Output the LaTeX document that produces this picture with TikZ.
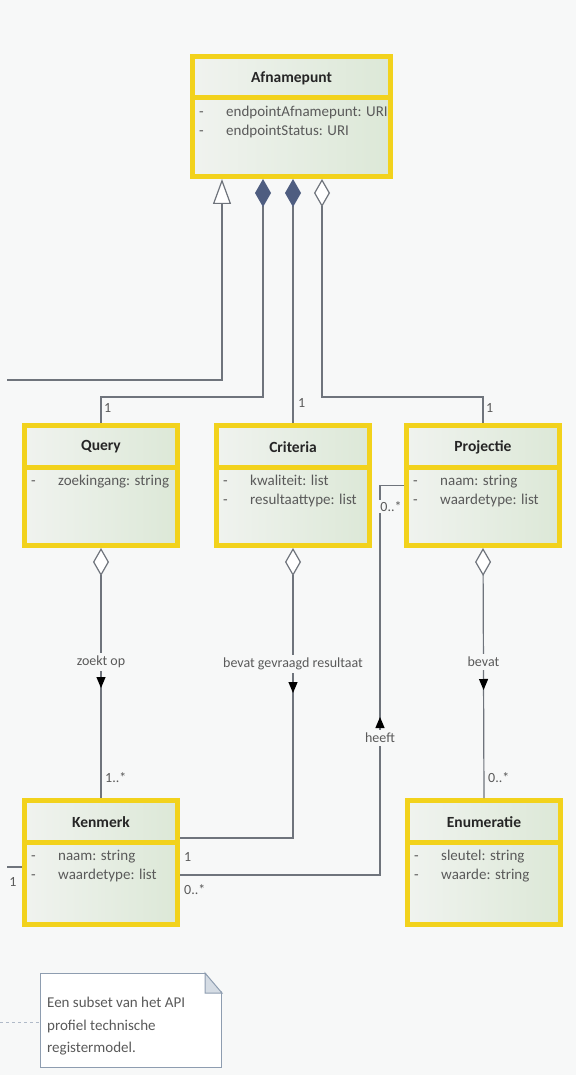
\documentclass[tikz,border=0pt]{standalone}
\usepackage{fontspec}
\setmainfont{Carlito}
\usepackage{xcolor}
\definecolor{geel}{HTML}{F2D21C}
\definecolor{vakl}{HTML}{F0F3EF}
\definecolor{vakr}{HTML}{DCE8D7}
\definecolor{ruit}{HTML}{4E5D80}
\definecolor{lijn}{HTML}{6F747C}
\definecolor{achtergrond}{HTML}{F7F8F8}
\definecolor{attrtekst}{HTML}{5A5A5A}
\definecolor{notitierand}{HTML}{8E9DB0}
\definecolor{vouw}{HTML}{D5DCE4}
\newcommand{\klasse}[7]{
\node[klasse, minimum width=#4, minimum height=#5, anchor=north west] (#1) at (#2,#3) {};
\draw[scheiding] ([yshift=-44pt]#1.north west)--([yshift=-44pt]#1.north east);
\node[titel] at ([yshift=-24pt]#1.north) {#6};
\node[attribuut] at ([xshift=9pt,yshift=-52pt]#1.north west) {#7};
}
\newcommand{\attr}[1]{\makebox[27pt][l]{-}#1}
\usepackage{tikz}
\usetikzlibrary{arrows.meta,decorations.markings}

\begin{document}
\begin{tikzpicture}[x=1pt,y=-1pt,
klasse/.style={draw=geel, line width=5pt, left color=vakl, right color=vakr},
scheiding/.style={draw=geel, line width=5pt},
titel/.style={font=\fontsize{15.5}{18}\selectfont\bfseries, text=black!85},
attribuut/.style={anchor=north west, inner sep=0pt, align=left, font=\fontsize{15}{18.5}\selectfont, text=attrtekst},
verbinding/.style={draw=lijn, line width=1.2pt},
samenstelling/.style={verbinding, {Diamond[length=28pt,width=16pt,fill=ruit,color=ruit]}-},
aggregatie/.style={verbinding, {Diamond[length=28pt,width=16pt,fill=white]}-},
overerving/.style={verbinding, -{Triangle[length=25pt,width=18pt,fill=white]}},
richting/.style={postaction=decorate, decoration={markings, mark=at position #1 with {\arrow{Triangle[length=11pt,width=9pt,fill=black,color=black]}}}},
rol/.style={font=\fontsize{14}{16}\selectfont, text=attrtekst, inner sep=1pt},
relnaam/.style={rol, fill=achtergrond, inner sep=3pt},
notitie/.style={draw=notitierand, line width=1pt, fill=white, anchor=north west, minimum width=181pt, minimum height=94pt},
notitietekst/.style={anchor=north west, inner sep=0pt, align=left, font=\fontsize{15}{22.5}\selectfont, text=attrtekst},
notitiestreep/.style={draw=notitierand!70, line width=1pt, dash pattern=on 3pt off 3pt}
]
\fill[achtergrond] (0,0) rectangle (576,1075);
\useasboundingbox (0,0) rectangle (576,1075);

\klasse{afnamepunt}{190}{54}{198pt}{120pt}{Afnamepunt}{\attr{endpointAfnamepunt: URI}\\\attr{endpointStatus: URI}}

\klasse{query}{22}{423}{153pt}{120pt}{Query}{\attr{zoekingang: string}}
\klasse{criteria}{214}{423}{153pt}{120pt}{Criteria}{\attr{kwaliteit: list}\\\attr{resultaattype: list}}
\klasse{projectie}{404}{423}{153pt}{120pt}{Projectie}{\attr{naam: string}\\\attr{waardetype: list}}

\klasse{kenmerk}{22}{798}{153pt}{124pt}{Kenmerk}{\attr{naam: string}\\\attr{waardetype: list}}
\klasse{enumeratie}{405}{798}{153pt}{124pt}{Enumeratie}{\attr{sleutel: string}\\\attr{waarde: string}}

% naar afnamepunt
\coordinate (links) at (7,380);
\draw[overerving] (links) -| ([xshift=-69.5pt]afnamepunt.south);
\draw[samenstelling] ([xshift=-28.5pt]afnamepunt.south) |- ([yshift=26pt]query.north) -- (query.north);
\draw[samenstelling] (afnamepunt.south -| criteria.north) -- (criteria.north);
\draw[aggregatie] ([xshift=30.5pt]afnamepunt.south) |- ([yshift=26pt]projectie.north) -- (projectie.north);
\node[rol, anchor=west] (q1) at ([xshift=2pt,yshift=15pt]query.north) {1};
\node[rol, anchor=west] (c1) at ([xshift=4pt,yshift=20pt]criteria.north) {1};
\node[rol, anchor=west] (p1) at ([xshift=2pt,yshift=15pt]projectie.north) {1};

% onderste relaties
\draw[aggregatie, richting=140pt] (query.south) -- node[relnaam, pos=.456] {zoekt op} (kenmerk.north);
\draw[aggregatie, richting=145pt] (criteria.south) |- node[relnaam, pos=.2] {bevat gevraagd resultaat} ([yshift=24.5pt]kenmerk.east);
\draw[aggregatie, richting=142pt] (projectie.south) -- node[relnaam, pos=.456] {bevat} (enumeratie.north);
\draw[verbinding, richting=358pt] ([yshift=-12.5pt]kenmerk.east) -| node[relnaam, pos=.676] {heeft} ([xshift=-24pt]projectie.west) -- (projectie.west);
\node[rol, anchor=west] (k1) at ([xshift=3pt,yshift=20pt]kenmerk.north) {1..*};
\node[rol, anchor=west] (e1) at ([xshift=3pt,yshift=20pt]enumeratie.north) {0..*};
\node[rol, anchor=west] (k2) at ([xshift=3pt,yshift=6pt]kenmerk.east) {1};
\node[rol, anchor=west] (k3) at ([xshift=3pt,yshift=-27pt]kenmerk.east) {0..*};
\node[relnaam, inner sep=1pt] (p2) at ([xshift=-13pt,yshift=-21pt]projectie.west) {0..*};

\coordinate (links2) at (7,867);
\draw[verbinding] (links2) -- (links2 -| kenmerk.west);
\node[rol] (k4) at (13,882) {1};

% notitie
\node[notitie] (notitie) at (40,973) {};
\fill[achtergrond] ([xshift=-17pt,yshift=1pt]notitie.north east) -- ([xshift=1pt,yshift=1pt]notitie.north east) -- ([xshift=1pt,yshift=-20pt]notitie.north east) -- cycle;
\draw[notitierand, line width=1pt, fill=vouw] ([xshift=-17pt]notitie.north east) -- ([xshift=-17pt,yshift=-20pt]notitie.north east) -- ([yshift=-20pt]notitie.north east) -- cycle;
\node[notitietekst] at ([xshift=7pt,yshift=-24pt]notitie.north west) {Een subset van het API\\profiel technische\\registermodel.};
\coordinate (notitielijn) at (0,1022);
\draw[notitiestreep] (notitielijn) -- (notitielijn -| notitie.west);

\end{tikzpicture}
\end{document}
